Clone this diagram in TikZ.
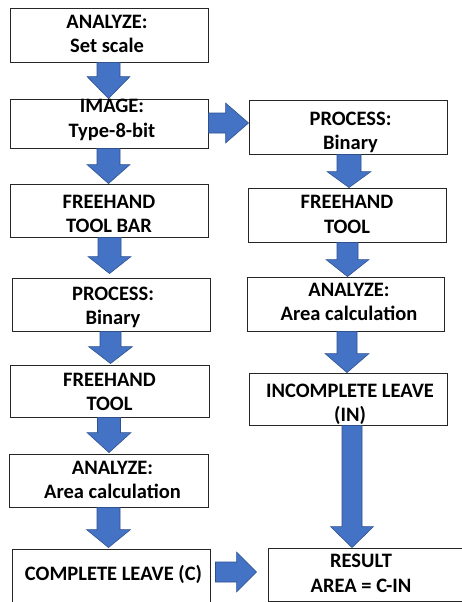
\documentclass[tikz,border=0pt]{standalone}
\usepackage{fontspec}
\setmainfont{Carlito}
\usetikzlibrary{calc}
\definecolor{ablue}{HTML}{4472C4}
\definecolor{aedge}{HTML}{2F528F}
\tikzset{
  box/.style={draw=black!85, line width=0.9pt, fill=white, inner sep=0pt},
  txt/.style={font=\fontsize{20.5}{24.5}\selectfont\bfseries, align=center, inner sep=0pt, text=black},
  blk/.style={fill=ablue, draw=aedge, line width=0.6pt, line join=miter}
}
% down arrow: #1 from, #2 to, #3 x, #4 shaft half, #5 head half, #6 head length, #7 gap at tip
\newcommand\dnarr[7]{%
  \filldraw[blk] let \p1=(#1.south), \p2=(#2.north) in
    ({#3pt-#4pt},\y1) -- ({#3pt-#4pt},{\y2+#7pt+#6pt}) -- ({#3pt-#5pt},{\y2+#7pt+#6pt}) --
    ({#3pt},{\y2+#7pt}) -- ({#3pt+#5pt},{\y2+#7pt+#6pt}) -- ({#3pt+#4pt},{\y2+#7pt+#6pt}) --
    ({#3pt+#4pt},\y1) -- cycle;}
% right arrow: #1 from, #2 to, #3 y, #4 shaft half, #5 head half, #6 head length, #7 start gap, #8 tip gap
\newcommand\rtarr[8]{%
  \filldraw[blk] let \p1=(#1.east), \p2=(#2.west) in
    ({\x1+#7pt},{-#3pt+#4pt}) -- ({\x2-#8pt-#6pt},{-#3pt+#4pt}) -- ({\x2-#8pt-#6pt},{-#3pt+#5pt}) --
    ({\x2-#8pt},{-#3pt}) -- ({\x2-#8pt-#6pt},{-#3pt-#5pt}) -- ({\x2-#8pt-#6pt},{-#3pt-#4pt}) --
    ({\x1+#7pt},{-#3pt-#4pt}) -- cycle;}
\begin{document}
\begin{tikzpicture}[x=1pt,y=-1pt]
\useasboundingbox (0,0) rectangle (462,602);
\fill[white] (0,0) rectangle (462,602);
% boxes, left column
\node[box, minimum width=198, minimum height=54] (b1) at (109,35) {};
\node[box, minimum width=198, minimum height=49] (b2) at (109,123.5) {};
\node[box, minimum width=198, minimum height=53] (b3) at (109,210.5) {};
\node[box, minimum width=198, minimum height=53] (b4) at (111,304.5) {};
\node[box, minimum width=199, minimum height=52] (b5) at (109.5,391) {};
\node[box, minimum width=199, minimum height=53] (b6) at (108.5,480.5) {};
\node[box, minimum width=198, minimum height=71] (b7) at (111,584.5) {};
% boxes, right column
\node[box, minimum width=198, minimum height=54] (r1) at (348,127) {};
\node[box, minimum width=198, minimum height=54] (r2) at (347,215) {};
\node[box, minimum width=197, minimum height=54] (r3) at (345.5,304) {};
\node[box, minimum width=198, minimum height=52] (r4) at (348,399) {};
\node[box, minimum width=212, minimum height=53] (r5) at (374,574.5) {};
% arrows
\dnarr{b1}{b2}{108.5}{11.5}{21.5}{22}{0}
\dnarr{b2}{b3}{108.5}{11.5}{21.5}{19}{0}
\dnarr{b3}{b4}{109.5}{11.5}{21.5}{17}{4}
\dnarr{b4}{b5}{110.5}{10.5}{22}{17}{1}
\dnarr{b5}{b6}{109}{11.5}{22}{20}{1}
\dnarr{b6}{b7}{108.5}{11.5}{22}{18}{1}
\dnarr{r1}{r2}{349}{12}{22}{16}{0}
\dnarr{r2}{r3}{347.5}{10.5}{21.5}{17}{0}
\dnarr{r3}{r4}{347}{10}{22}{19}{0}
\dnarr{r4}{r5}{352}{10}{21.5}{21}{0}
\rtarr{b2}{r1}{123}{10}{20}{23}{0}{0}
\rtarr{b7}{r5}{572}{10}{20}{20}{5}{11}
% texts
\node[txt] (t1) at (107,35.7) {ANALYZE:\strut\\Set scale\strut};
\node[txt] (t2) at (112,120.2) {IMAGE:\strut\\Type-8-bit\strut};
\node[txt] (t3) at (109,215.7) {FREEHAND\strut\\TOOL BAR\strut};
\node[txt] (t4) at (113,307.7) {PROCESS:\strut\\Binary\strut};
\node[txt] (t5) at (109.5,393.7) {FREEHAND\strut\\TOOL\strut};
\node[txt] (t6) at (112.5,481.7) {ANALYZE:\strut\\Area calculation\strut};
\node[txt] (t7) at (113.5,576) {COMPLETE LEAVE (C)\strut};
\node[txt] (u1) at (350.5,132.7) {PROCESS:\strut\\Binary\strut};
\node[txt] (u2) at (347,216.2) {FREEHAND\strut\\TOOL\strut};
\node[txt] (u3) at (349,303.7) {ANALYZE:\strut\\Area calculation\strut};
\node[txt] (u4) at (350,404.7) {INCOMPLETE LEAVE\strut\\(IN)\strut};
\node[txt] (u5) at (361,575.2) {RESULT\strut\\AREA = C-IN\strut};
\end{tikzpicture}
\end{document}
